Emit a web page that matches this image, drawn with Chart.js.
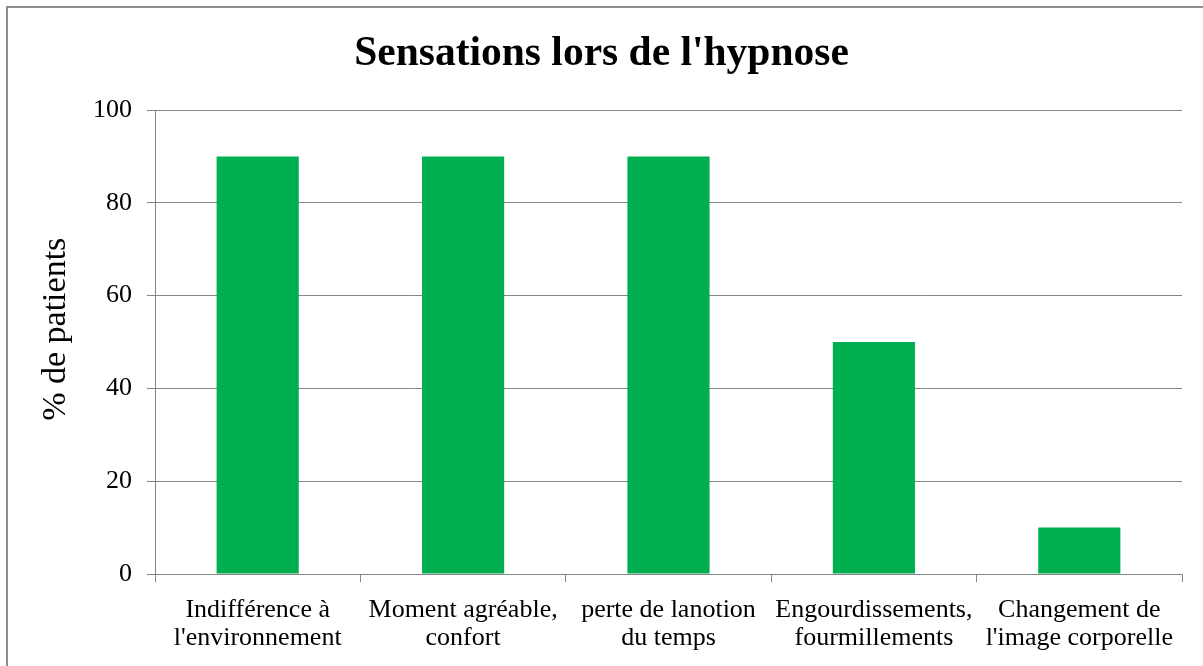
<!DOCTYPE html>
<html>
<head>
<meta charset="utf-8">
<script src="https://cdn.jsdelivr.net/npm/chart.js@4/dist/chart.umd.min.js"></script>
<style>
  html, body { margin:0; padding:0; background:#fff; overflow:hidden; width:1203px; height:666px; }
  #wrap { position:relative; width:1203px; height:666px; }
  #frame { position:absolute; left:6px; top:6px; width:1400px; height:900px; border:2px solid #8e8e8e; box-sizing:border-box; pointer-events:none; }
  canvas { position:absolute; left:0; top:0; }
</style>
</head>
<body>
<div id="wrap">
  <canvas id="c" width="1203" height="666"></canvas>
  <div id="frame"></div>
</div>
<script>
const categories = [
  ["Indifférence à", "l'environnement"],
  ["Moment agréable,", "confort"],
  ["perte de lanotion", "du temps"],
  ["Engourdissements,", "fourmillements"],
  ["Changement de", "l'image corporelle"]
];
const values = [90, 90, 90, 50, 10];
const yTicks = [0, 20, 40, 60, 80, 100];
const chartTitle = "Sensations lors de l'hypnose";
const yTitle = "% de patients";

const SERIF = "'Liberation Serif', 'Times New Roman', serif";
const GRID = '#868686';

new Chart(document.getElementById('c'), {
  type: 'bar',
  data: {
    labels: categories,
    datasets: [{
      data: values,
      backgroundColor: '#00B050',
      borderWidth: 0,
      categoryPercentage: 1.0,
      barPercentage: 0.4
    }]
  },
  options: {
    responsive: false,
    animation: false,
    devicePixelRatio: 1,
    layout: { padding: { left: 0, right: 0, top: 0, bottom: 0 } },
    plugins: {
      legend: { display: false },
      tooltip: { enabled: false },
      title: {
        display: true,
        text: chartTitle,
        color: '#000',
        font: { family: SERIF, size: 41.5, weight: 'bold', lineHeight: 1.2 },
        padding: { top: 29, bottom: 31.2 }
      }
    },
    scales: {
      x: {
        grid: { display: true, drawOnChartArea: false, drawTicks: true, tickLength: 8, color: GRID, lineWidth: 1, offset: true },
        border: { display: true, color: GRID, width: 1 },
        ticks: { color: '#000', font: { family: SERIF, size: 26, lineHeight: 1.08 }, padding: 14, maxRotation: 0, autoSkip: false },
        afterFit: (s) => { s.height = 92; }
      },
      y: {
        min: 0, max: 100,
        afterBuildTicks: (s) => { s.ticks = yTicks.map(v => ({ value: v })); },
        grid: { display: true, drawTicks: true, tickLength: 8, color: GRID, lineWidth: 1 },
        border: { display: true, color: GRID, width: 1 },
        ticks: { color: '#000', font: { family: SERIF, size: 26 }, padding: 15 },
        title: {
          display: true,
          text: '   ' + yTitle,
          color: '#000',
          font: { family: SERIF, size: 34, lineHeight: 1.2 },
          padding: { top: 35.6, bottom: 0 }
        },
        afterFit: (s) => { s.width = 155; }
      },
      spacer: {
        type: 'linear',
        position: 'right',
        display: true,
        grid: { display: false, drawTicks: false },
        border: { display: false },
        ticks: { display: false },
        afterFit: (s) => { s.width = 21; }
      }
    }
  }
});
</script>
</body>
</html>
